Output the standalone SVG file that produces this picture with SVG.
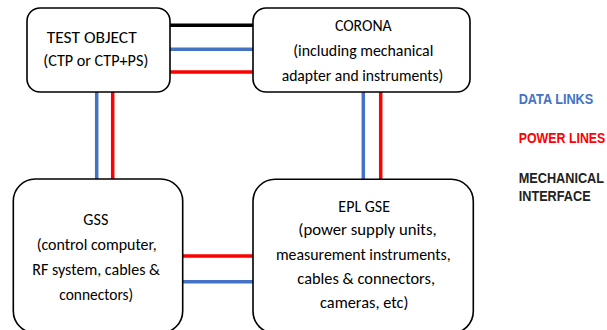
<svg xmlns="http://www.w3.org/2000/svg" width="607" height="330" viewBox="0 0 607 330">
<style>
.box{fill:#fff;stroke:#000;stroke-width:1.6}
.t{font-family:Carlito,"Liberation Sans",sans-serif;font-size:17px;fill:#000;text-anchor:middle}
.lg{font-family:"Liberation Sans",Arial,sans-serif;font-size:15.5px;font-weight:bold}
.blue{stroke:#4472C4;stroke-width:3.5;fill:none}
.red{stroke:#FF0000;stroke-width:3.5;fill:none}
.mech{stroke:#000;stroke-width:3.5;fill:none}
</style>
<rect width="607" height="330" fill="#fff"/>
<g id="connectors">
<line class="mech" x1="170" y1="25.3" x2="253" y2="25.3"/>
<line class="blue" x1="170" y1="49.3" x2="253" y2="49.3"/>
<line class="red" x1="170" y1="72" x2="253" y2="72"/>
<line class="blue" x1="96.7" y1="92" x2="96.7" y2="179"/>
<line class="red" x1="112.7" y1="92" x2="112.7" y2="179"/>
<line class="blue" x1="363.3" y1="92" x2="363.3" y2="179"/>
<line class="red" x1="380.7" y1="92" x2="380.7" y2="179"/>
<line class="red" x1="182.7" y1="256" x2="253" y2="256"/>
<line class="blue" x1="182.7" y1="281.7" x2="253" y2="281.7"/>
</g>
<g id="test-object">
<rect class="box" x="27" y="8" width="143" height="84" rx="13"/>
<text class="t" x="91.7" y="43.3" textLength="90" lengthAdjust="spacingAndGlyphs">TEST OBJECT</text>
<text class="t" x="95.8" y="66" textLength="105" lengthAdjust="spacingAndGlyphs">(CTP or CTP+PS)</text>
</g>
<g id="corona">
<rect class="box" x="253" y="8" width="217" height="84" rx="13"/>
<text class="t" x="363.3" y="30.7" textLength="56.7" lengthAdjust="spacingAndGlyphs">CORONA</text>
<text class="t" x="363.3" y="56" textLength="140" lengthAdjust="spacingAndGlyphs">(including mechanical</text>
<text class="t" x="362.5" y="81" textLength="161.7" lengthAdjust="spacingAndGlyphs">adapter and instruments)</text>
</g>
<g id="gss">
<rect class="box" x="13.3" y="179" width="169.4" height="154" rx="22"/>
<text class="t" x="95.8" y="225" textLength="25" lengthAdjust="spacingAndGlyphs">GSS</text>
<text class="t" x="96.7" y="250" textLength="120" lengthAdjust="spacingAndGlyphs">(control computer,</text>
<text class="t" x="96.2" y="275" textLength="127.7" lengthAdjust="spacingAndGlyphs">RF system, cables &amp;</text>
<text class="t" x="96.3" y="300" textLength="74" lengthAdjust="spacingAndGlyphs">connectors)</text>
</g>
<g id="epl-gse">
<rect class="box" x="253" y="179.3" width="220.3" height="154" rx="22"/>
<text class="t" x="364.2" y="211.7" textLength="51.7" lengthAdjust="spacingAndGlyphs">EPL GSE</text>
<text class="t" x="367.5" y="235" textLength="138.3" lengthAdjust="spacingAndGlyphs">(power supply units,</text>
<text class="t" x="363.3" y="260" textLength="174.7" lengthAdjust="spacingAndGlyphs">measurement instruments,</text>
<text class="t" x="366.2" y="284.3" textLength="137.7" lengthAdjust="spacingAndGlyphs">cables &amp; connectors,</text>
<text class="t" x="364.2" y="308.3" textLength="88.3" lengthAdjust="spacingAndGlyphs">cameras, etc)</text>
</g>
<g id="legend" transform="translate(518.7 0) scale(0.82 1)">
<text class="lg" x="0" y="104" fill="#4472C4">DATA LINKS</text>
<text class="lg" x="0" y="142.7" fill="#FF0000" transform="scale(0.975 1)">POWER LINES</text>
<text class="lg" x="0" y="182.7" fill="#222">MECHANICAL</text>
<text class="lg" x="0" y="201" fill="#222">INTERFACE</text>
</g>
</svg>
